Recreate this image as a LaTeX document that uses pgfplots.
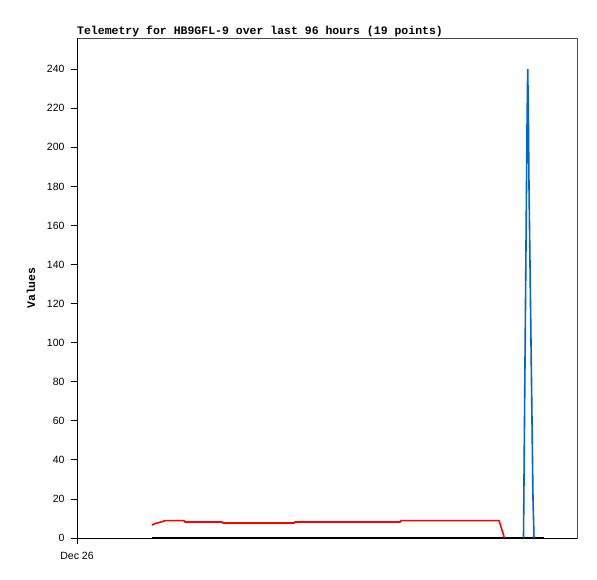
\documentclass[border=0pt]{standalone}
\usepackage{pgfplots}
\pgfplotsset{compat=1.18}
\usepackage{fontspec}
\setmainfont{Liberation Sans}
\newfontfamily\monob{Liberation Mono}
\definecolor{tblue}{HTML}{0066CC}
\definecolor{tred}{HTML}{FF0000}
\begin{document}
\begin{tikzpicture}
\begin{axis}[
  scale only axis,
  width=500pt, height=500pt,
  xmin=0, xmax=500, ymin=0, ymax=256,
  axis line style={black!70, line width=0.8pt},
  tick style={black, line width=0.8pt},
  major tick length=6pt,
  tick align=outside,
  xtick pos=bottom, ytick pos=left,
  ytick={0,20,...,240},
  xtick={0}, xticklabels={Dec 26},
  /pgf/number format/assume math mode=true,
  ticklabel style={font=\fontsize{10.5}{12}\selectfont},
  yticklabel style={xshift=-3pt},
  xticklabel style={yshift=-5pt},
  clip=false,
]
\draw[black, line width=0.8pt] (rel axis cs:0,1) -- (rel axis cs:0,0) -- (rel axis cs:1,0);
\addplot[black, line width=2pt] coordinates {
 (75,0) (200,0) (300,0) (400,0) (467,0)
};
\addplot[tred, line width=1.6pt] coordinates {
 (75,6.6) (77,7.2) (81,7.8) (85,8.3) (88,8.9) (107,8.9) (108,8.2) (145,8.2)
 (146,7.7) (217,7.7) (218,8.2) (323,8.2) (324,8.9) (422,8.9) (423.5,6.6)
 (425,4) (426.3,2) (427.3,0)
};
\addplot[tblue, line width=1.6pt] coordinates {
 (446.5,0) (447,30) (448,90) (449,150) (450,210) (450.7,240) (451.3,220)
 (452,180) (453,140) (454,100) (455,60) (456,20) (457,0)
};
\node[anchor=base west, inner sep=0pt, font=\monob\bfseries\fontsize{11.5}{13}\selectfont]
  at (rel axis cs:0,1) [yshift=3.5pt] {Telemetry for HB9GFL-9 over last 96 hours (19 points)};
\coordinate (ml) at (rel axis cs:0,0.5);
\coordinate (sw) at (rel axis cs:0,0);
\coordinate (ne) at (rel axis cs:1,1);
\end{axis}
\node[rotate=90, inner sep=0pt, font=\monob\bfseries\fontsize{11.5}{13}\selectfont]
  at ([xshift=-46pt]ml) {Values};
\pgfresetboundingbox
\path[use as bounding box] ([shift={(-77pt,-41pt)}]sw) rectangle ([shift={(20pt,38pt)}]ne);
\end{tikzpicture}
\end{document}
